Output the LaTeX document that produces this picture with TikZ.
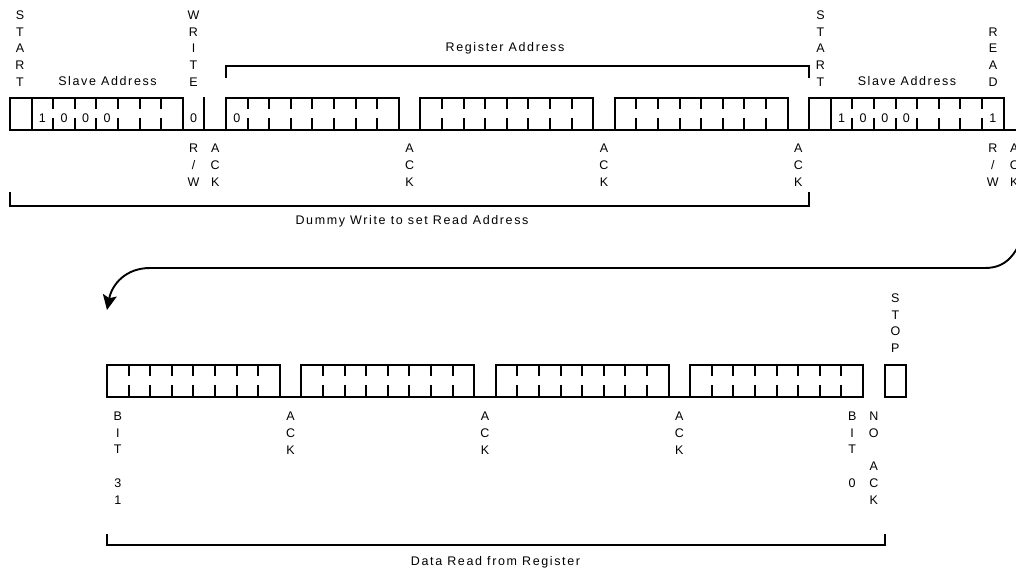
\documentclass[tikz,border=0pt]{standalone}
\usepackage{fontspec}
\setmainfont{Liberation Sans}
\newfontfamily\spacedfont[LetterSpace=13]{Liberation Sans}
\usetikzlibrary{arrows.meta}
\begin{document}
\begin{tikzpicture}[x=1pt,y=-1pt,line width=1.9pt,line cap=rect,
  stack/.style={font={\fontsize{12.5}{16.7}\selectfont},align=center,inner sep=0pt},
  lbl/.style={font={\fontsize{12.5}{14}\selectfont\spacedfont},inner sep=0pt},
  dig/.style={font={\fontsize{12.5}{14}\selectfont},inner sep=0pt}]
\clip (0,0) rectangle (1016,571);
\def\bw{21.6}
% ---------------- top row ----------------
\def\xa{10}\def\ya{98}\def\yb{130}
\draw (\xa,\yb) -- (1030,\yb);
\foreach \s/\e in {0/8,10/18,19/27,28/36,37/46}
  \draw ({\xa+\s*\bw},\ya) -- ({\xa+\e*\bw},\ya);
\foreach \k in {0,1,8,9,10,18,19,27,28,36,37,38,46}
  \draw ({\xa+\k*\bw},\ya) -- ({\xa+\k*\bw},\yb);
\foreach \s in {1,38} \foreach \j in {1,...,7}
  \draw ({\xa+(\s+\j)*\bw},\ya) -- ++(0,10) ({\xa+(\s+\j)*\bw},\yb) -- ++(0,-11);
\foreach \s in {10,19,28} \foreach \j in {1,...,7}
  \draw ({\xa+(\s+\j)*\bw},\ya) -- ++(0,10) ({\xa+(\s+\j)*\bw},\yb) -- ++(0,-11);
% ---------------- bottom row ----------------
\def\xb{107}\def\yc{365}\def\yd{397}
\draw ({\xb},\yd) -- ({\xb+35*\bw},\yd);
\draw ({\xb+36*\bw},\yd) -- ({\xb+37*\bw},\yd);
\foreach \s/\e in {0/8,9/17,18/26,27/35,36/37}
  \draw ({\xb+\s*\bw},\yc) -- ({\xb+\e*\bw},\yc);
\foreach \k in {0,8,9,17,18,26,27,35,36,37}
  \draw ({\xb+\k*\bw},\yc) -- ({\xb+\k*\bw},\yd);
\foreach \s in {0,9,18,27} \foreach \j in {1,...,7}
  \draw ({\xb+(\s+\j)*\bw},\yc) -- ++(0,10) ({\xb+(\s+\j)*\bw},\yd) -- ++(0,-11);
% ---------------- top labels ----------------
\node[stack] (start1) at (20,48.5) {S\\T\\A\\R\\T};
\node[stack] (write) at (193.5,48.5) {W\\R\\I\\T\\E};
\node[stack] (start2) at (820.5,48.5) {S\\T\\A\\R\\T};
\node[stack] (read) at (993,57) {R\\E\\A\\D};
\node[lbl] (sa1) at (107.5,81) {Slave Address};
\node[lbl] (sa2) at (907,81) {Slave Address};
\node[lbl] (ra) at (505,48) {Register Address};
% digits
\node[dig] (d1) at ({\xa+1.5*\bw},118) {1};
\node[dig] (d2) at ({\xa+2.5*\bw},118) {0};
\node[dig] (d3) at ({\xa+3.5*\bw},118) {0};
\node[dig] (d4) at ({\xa+4.5*\bw},118) {0};
\node[dig] (rw1) at ({\xa+8.5*\bw},118) {0};
\node[dig] (r0) at ({\xa+10.5*\bw},118) {0};
\node[dig] (e1) at ({\xa+38.5*\bw},118) {1};
\node[dig] (e2) at ({\xa+39.5*\bw},118) {0};
\node[dig] (e3) at ({\xa+40.5*\bw},118) {0};
\node[dig] (e4) at ({\xa+41.5*\bw},118) {0};
\node[dig] (rw2) at ({\xa+45.5*\bw},118) {1};
% below top row
\node[stack] (rwl1) at ({\xa+8.5*\bw},165) {R\\/\\W};
\node[stack] (ack1) at ({\xa+9.5*\bw},165) {A\\C\\K};
\node[stack] (ack2) at ({\xa+18.5*\bw},165) {A\\C\\K};
\node[stack] (ack3) at ({\xa+27.5*\bw},165) {A\\C\\K};
\node[stack] (ack4) at ({\xa+36.5*\bw},165) {A\\C\\K};
\node[stack] (rwl2) at ({\xa+45.5*\bw},165) {R\\/\\W};
\node[stack] (ack5) at ({\xa+46.5*\bw},165) {A\\C\\K};
% brackets top
\draw (226,77) -- (226,66) -- ({\xa+37*\bw},66) -- ({\xa+37*\bw},77);
\draw (10,193) -- (10,206) -- ({\xa+37*\bw},206) -- ({\xa+37*\bw},193);
\node[lbl] (dummy) at (412,221) {Dummy Write to set Read Address};
% ---------------- bottom labels ----------------
\node[stack] (stop) at ({\xb+36.5*\bw},323) {S\\T\\O\\P};
\node[stack] (bit31) at ({\xb+0.5*\bw},458) {B\\I\\T\\ \\3\\1};
\node[stack] (back1) at ({\xb+8.5*\bw},433) {A\\C\\K};
\node[stack] (back2) at ({\xb+17.5*\bw},433) {A\\C\\K};
\node[stack] (back3) at ({\xb+26.5*\bw},433) {A\\C\\K};
\node[stack] (bit0) at ({\xb+34.5*\bw},449.5) {B\\I\\T\\ \\0};
\node[stack] (nack) at ({\xb+35.5*\bw},458) {N\\O\\ \\A\\C\\K};
\draw (\xb,535) -- (\xb,545) -- ({\xb+36*\bw},545) -- ({\xb+36*\bw},535);
\node[lbl] (dread) at (495.5,562) {Data Read from Register};
% ---------------- curved arrow ----------------
\coordinate (from) at (1032,210);
\coordinate (to) at (107,310);
\draw[line cap=butt,-{Stealth[length=15pt,width=14pt,inset=3pt]}] (from) .. controls (1020,250) and (1010,268) .. (985,268)
  -- (150,268) .. controls (126,268) and (112,284) .. (to);
\end{tikzpicture}
\end{document}
